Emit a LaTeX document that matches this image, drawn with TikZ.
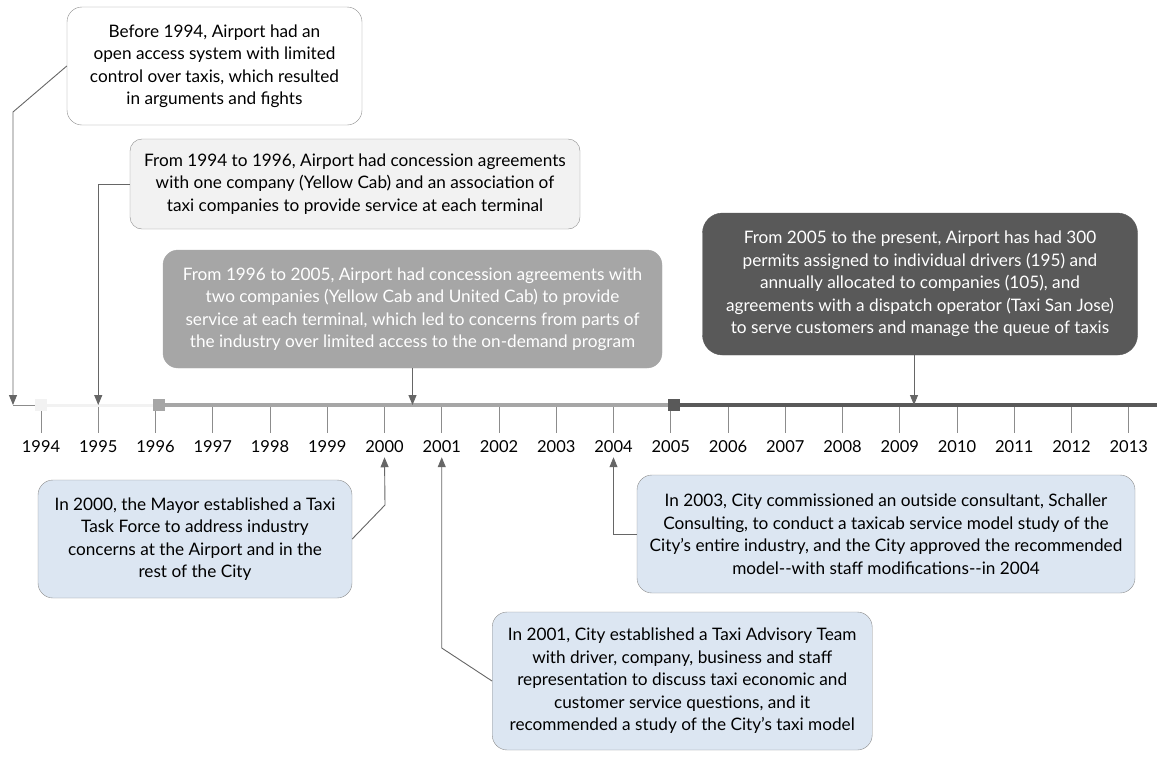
\documentclass[tikz,border=0pt]{standalone}
\usepackage{fontspec}
\setmainfont{Lato}
\usetikzlibrary{arrows.meta}

\definecolor{boxline}{HTML}{8C8C8C}
\definecolor{lightfill}{HTML}{F2F2F2}
\definecolor{midfill}{HTML}{A6A6A6}
\definecolor{darkfill}{HTML}{595959}
\definecolor{bluefill}{HTML}{DCE6F2}
\definecolor{linegray}{HTML}{666666}

\tikzstyle{event}=[draw=boxline, rounded corners=15pt, align=center, inner xsep=10pt, minimum height=118pt, font=\fontsize{17.2}{22.5}\selectfont]
\tikzstyle{plain event}=[event, fill=white]
\tikzstyle{light event}=[event, fill=lightfill, rounded corners=12pt]
\tikzstyle{mid event}=[event, draw=midfill, fill=midfill, text=white]
\tikzstyle{dark event}=[event, draw=darkfill, fill=darkfill, text=white, rounded corners=20pt]
\tikzstyle{city event}=[event, fill=bluefill]
\tikzstyle{callout}=[draw=linegray, line width=0.9pt, -{Triangle[width=8pt,length=10pt]}]
\tikzstyle{tick}=[draw=boxline, line width=1pt]
\tikzstyle{year}=[font=\fontsize{16.5}{18}\selectfont, inner sep=4pt]
\tikzstyle{marker}=[rectangle, minimum size=12pt, inner sep=0pt]

\begin{document}
\begin{tikzpicture}[x=1pt, y=-1pt]
	\useasboundingbox (0,0) rectangle (1157,756);
	% time axis
	\coordinate (axstart) at (13,405);
	\coordinate (axend) at (1157,405);
	\foreach \yr [evaluate=\yr as \xpos using 41+(\yr-1994)*57.25] in {1994,...,2013} {
		\coordinate (t\yr) at (\xpos,405);
		\draw[tick] (t\yr) -- ++(0,28);
		\node[year] (l\yr) at (\xpos,447) {\yr};
	}
	\draw[line width=1pt, boxline] (axstart) -- (t1994);
	\draw[line width=3pt, lightfill] (t1994) -- (t1996);
	\draw[line width=3.5pt, midfill] (t1996) -- (t2005);
	\draw[line width=3.5pt, darkfill] (t2005) -- (axend);
	\foreach \yr/\col/\dx in {1994/lightfill/0, 1996/midfill/3, 2005/darkfill/3}
		\node[marker, fill=\col, xshift=\dx pt] (m\yr) at (t\yr) {};

	% events above the axis
	\node[plain event, minimum width=295pt] (open94) at (214.5,66) {Before 1994, Airport had an\\open access system with limited\\control over taxis, which resulted\\in arguments and fights};
	\node[light event, minimum height=90pt, minimum width=450pt] (conc94) at (355,184) {From 1994 to 1996, Airport had concession agreements\\with one company (Yellow Cab) and an association of\\taxi companies to provide service at each terminal};
	\node[mid event, minimum width=499pt] (conc96) at (412.5,309) {From 1996 to 2005, Airport had concession agreements with\\two companies (Yellow Cab and United Cab) to provide\\service at each terminal, which led to concerns from parts of\\the industry over limited access to the on-demand program};
	\node[dark event, minimum height=142pt, minimum width=435pt] (permits05) at (920,284) {From 2005 to the present, Airport has had 300\\permits assigned to individual drivers (195) and\\annually allocated to companies (105), and\\agreements with a dispatch operator (Taxi San Jose)\\to serve customers and manage the queue of taxis};

	% events below the axis
	\node[city event, minimum width=314pt] (force00) at (195,539) {In 2000, the Mayor established a Taxi\\Task Force to address industry\\concerns at the Airport and in the\\rest of the City};
	\node[city event, minimum height=138pt, minimum width=380pt, anchor=west] (team01) at (492,681) {In 2001, City established a Taxi Advisory Team\\with driver, company, business and staff\\representation to discuss taxi economic and\\customer service questions, and it\\recommended a study of the City's taxi model};
	\node[city event, minimum width=498pt] (model03) at (886,534) {In 2003, City commissioned an outside consultant, Schaller\\Consulting, to conduct a taxicab service model study of the\\City's entire industry, and the City approved the recommended\\model-{}-with staff modifications-{}-in 2004};

	% callouts
	\coordinate (bend94) at (13,112);
	\coordinate (p2009) at (914,405);
	\coordinate (bend00) at (385,505);
	\coordinate (lvl01) at (0,648);
	\draw[callout] (open94.west) -- (bend94) -- (axstart);
	\draw[callout] (conc94.west) -| (t1995);
	\draw[callout] (conc96.south) -- (conc96.south |- axstart);
	\draw[callout] (permits05.south -| p2009) -- (p2009);
	\draw[callout] (force00.east) -- (bend00) -- (l2000.south);
	\draw[callout] (team01.west) -- (l2001.south |- lvl01) -- (l2001.south);
	\draw[callout] (model03.west) -| (l2004.south);
\end{tikzpicture}
\end{document}
